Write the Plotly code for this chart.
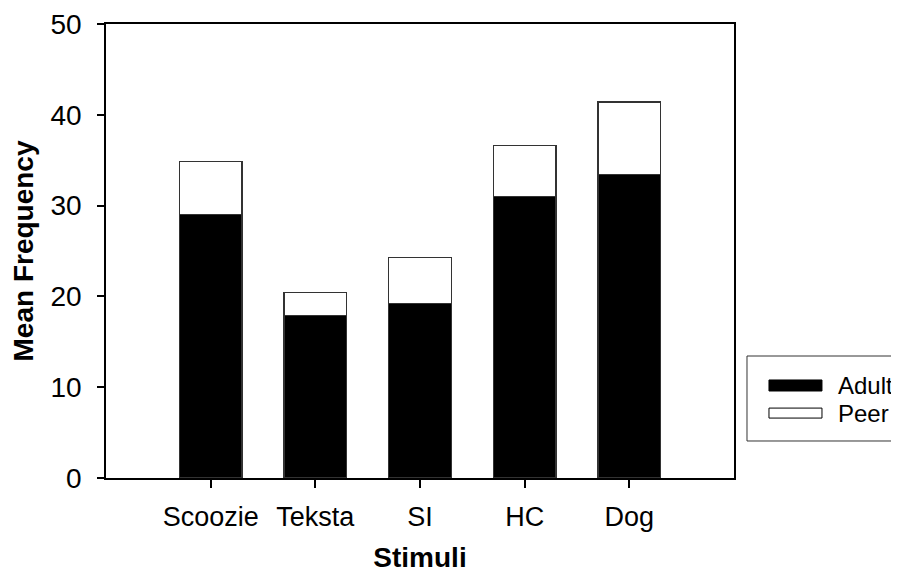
import plotly.graph_objects as go

categories = ["Scoozie", "Teksta", "SI", "HC", "Dog"]
adult = [29.0, 17.9, 19.2, 31.0, 33.4]
peer = [5.9, 2.5, 5.1, 5.6, 8.0]
series_names = ["Adult", "Peer"]
y_ticks = [0, 10, 20, 30, 40, 50]

FONT = "Liberation Sans, Arial, sans-serif"
x_idx = list(range(len(categories)))

fig = go.Figure()
fig.add_trace(go.Bar(x=x_idx, y=adult, name=series_names[0], width=0.6,
                     marker=dict(color="black", line=dict(color="#333333", width=1.2))))
fig.add_trace(go.Bar(x=x_idx, y=peer, name=series_names[1], width=0.6,
                     marker=dict(color="white", line=dict(color="#333333", width=1.2))))

# custom legend (wide rectangular swatches)
fig.add_shape(type="rect", xref="paper", yref="paper", x0=1.0207, x1=1.28, y0=0.0815, y1=0.2687,
              line=dict(color="#333333", width=1), fillcolor="white", layer="above")
fig.add_shape(type="rect", xref="paper", yref="paper", x0=1.0557, x1=1.1401, y0=0.1916, y1=0.2159,
              line=dict(color="black", width=1), fillcolor="black", layer="above")
fig.add_shape(type="rect", xref="paper", yref="paper", x0=1.0557, x1=1.1401, y0=0.132, y1=0.154,
              line=dict(color="black", width=1), fillcolor="white", layer="above")
for name, yc in zip(series_names, [0.2048, 0.143]):
    fig.add_annotation(text=name, xref="paper", yref="paper", x=1.162, y=yc,
                       xanchor="left", yanchor="middle", showarrow=False,
                       font=dict(family=FONT, size=24, color="black"))

fig.update_layout(
    barmode="stack",
    width=891, height=565,
    margin=dict(l=98, r=165, t=16, b=95, autoexpand=False),
    plot_bgcolor="white", paper_bgcolor="white",
    showlegend=False,
    font=dict(family=FONT, size=27, color="black"),
    bargap=0.4,
)
fig.update_xaxes(
    range=[-1, 5], tickmode="array", tickvals=x_idx, ticktext=categories,
    ticks="outside", ticklen=8, tickwidth=1.5, tickcolor="black",
    showline=True, linecolor="black", linewidth=1.5, mirror=True,
    showgrid=False, zeroline=False, ticklabelstandoff=6, automargin=False,
    title=dict(text="<b>Stimuli</b>", font=dict(size=28), standoff=22),
    tickfont=dict(size=27),
)
fig.update_yaxes(
    range=[0, 50], tickmode="array", tickvals=y_ticks,
    ticks="outside", ticklen=7, tickwidth=1.5, tickcolor="black",
    showline=True, linecolor="black", linewidth=1.5, mirror=True,
    showgrid=False, zeroline=False, ticklabelstandoff=10, automargin=False,
    title=dict(text="<b>Mean Frequency</b>", font=dict(size=28), standoff=14),
    tickfont=dict(size=28),
)

fig.write_html("out.html")
